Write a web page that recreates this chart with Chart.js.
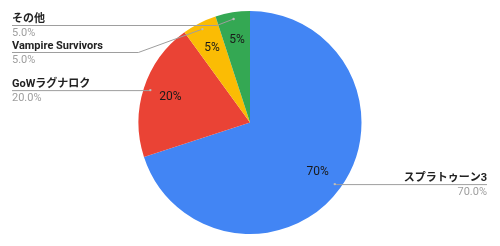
<!DOCTYPE html>
<html>
<head>
<meta charset="utf-8">
<script src="https://cdn.jsdelivr.net/npm/chart.js@4"></script>
<style>
  html, body { margin: 0; padding: 0; background: #fff; }
  canvas { display: block; }
</style>
</head>
<body>
<canvas id="chart" width="500" height="246"></canvas>
<script>
var labels = ['スプラトゥーン3', 'GoWラグナロク', 'Vampire Survivors', 'その他'];
var values = [70, 20, 5, 5];
var colors = ['#4285F4', '#EA4335', '#FBBC04', '#34A853'];

var FONT = "Roboto, 'Noto Sans CJK JP', sans-serif";

// draws the % inside the slices and the leader-line labels outside
var sliceLabels = {
    id: 'sliceLabels',
    afterDatasetsDraw: function (chart) {
        var ctx = chart.ctx;
        var meta = chart.getDatasetMeta(0);
        var total = values.reduce(function (a, b) { return a + b; }, 0);
        var left = [], right = [];

        meta.data.forEach(function (arc, i) {
            var p = arc.getProps(['x', 'y', 'startAngle', 'endAngle', 'outerRadius'], true);
            var mid = (p.startAngle + p.endAngle) / 2;
            var pct = values[i] / total * 100;

            // inner label
            ctx.save();
            ctx.font = '12px ' + FONT;
            ctx.fillStyle = '#1a1a1a';
            ctx.textAlign = 'center';
            ctx.textBaseline = 'middle';
            ctx.fillText(Math.round(pct) + '%',
                p.x + Math.cos(mid) * p.outerRadius * 0.75,
                p.y + Math.sin(mid) * p.outerRadius * 0.75);
            ctx.restore();

            var item = {
                i: i,
                pct: pct,
                dx: p.x + Math.cos(mid) * p.outerRadius * 0.94,
                dy: p.y + Math.sin(mid) * p.outerRadius * 0.94
            };
            if (Math.cos(mid) < 0) left.push(item); else right.push(item);
        });

        function place(list) {
            list.sort(function (a, b) { return a.dy - b.dy; });
            var prev = -Infinity;
            list.forEach(function (it) {
                it.ly = Math.max(it.dy, prev + 27, 25);
                prev = it.ly;
            });
        }
        place(left);
        place(right);

        function draw(it, isLeft) {
            var x0 = isLeft ? 12 : 487;
            ctx.save();
            ctx.strokeStyle = '#9e9e9e';
            ctx.lineWidth = 1;
            ctx.beginPath();
            ctx.moveTo(x0, it.ly + 0.5);
            var elbow = isLeft ? it.dx - 60 * (it.ly - it.dy) / 35 : it.dx;
            if (isLeft && it.ly - it.dy > 3) {
                elbow = Math.min(it.dx - 10, it.dx - Math.abs(it.ly - it.dy) * 2.8);
            } else {
                elbow = it.dx;
            }
            ctx.lineTo(elbow, it.ly + 0.5);
            ctx.lineTo(it.dx, it.dy);
            ctx.stroke();

            ctx.fillStyle = '#bdbdbd';
            ctx.beginPath();
            ctx.arc(it.dx, it.dy, 1.2, 0, Math.PI * 2);
            ctx.fill();

            ctx.textAlign = isLeft ? 'left' : 'right';
            ctx.textBaseline = 'alphabetic';
            ctx.font = 'bold 11px ' + FONT;
            ctx.fillStyle = '#222';
            ctx.fillText(labels[it.i], x0, it.ly - 3);
            ctx.font = '11px ' + FONT;
            ctx.fillStyle = '#9e9e9e';
            ctx.fillText(it.pct.toFixed(1) + '%', x0, it.ly + 11);
            ctx.restore();
        }
        left.forEach(function (it) { draw(it, true); });
        right.forEach(function (it) { draw(it, false); });
    }
};

new Chart(document.getElementById('chart'), {
    type: 'pie',
    data: {
        labels: labels,
        datasets: [{
            data: values,
            backgroundColor: colors,
            borderWidth: 0
        }]
    },
    options: {
        responsive: false,
        animation: false,
        layout: { padding: { top: 11, bottom: 12 } },
        plugins: {
            legend: { display: false },
            tooltip: { enabled: false }
        }
    },
    plugins: [sliceLabels]
});
</script>
</body>
</html>
